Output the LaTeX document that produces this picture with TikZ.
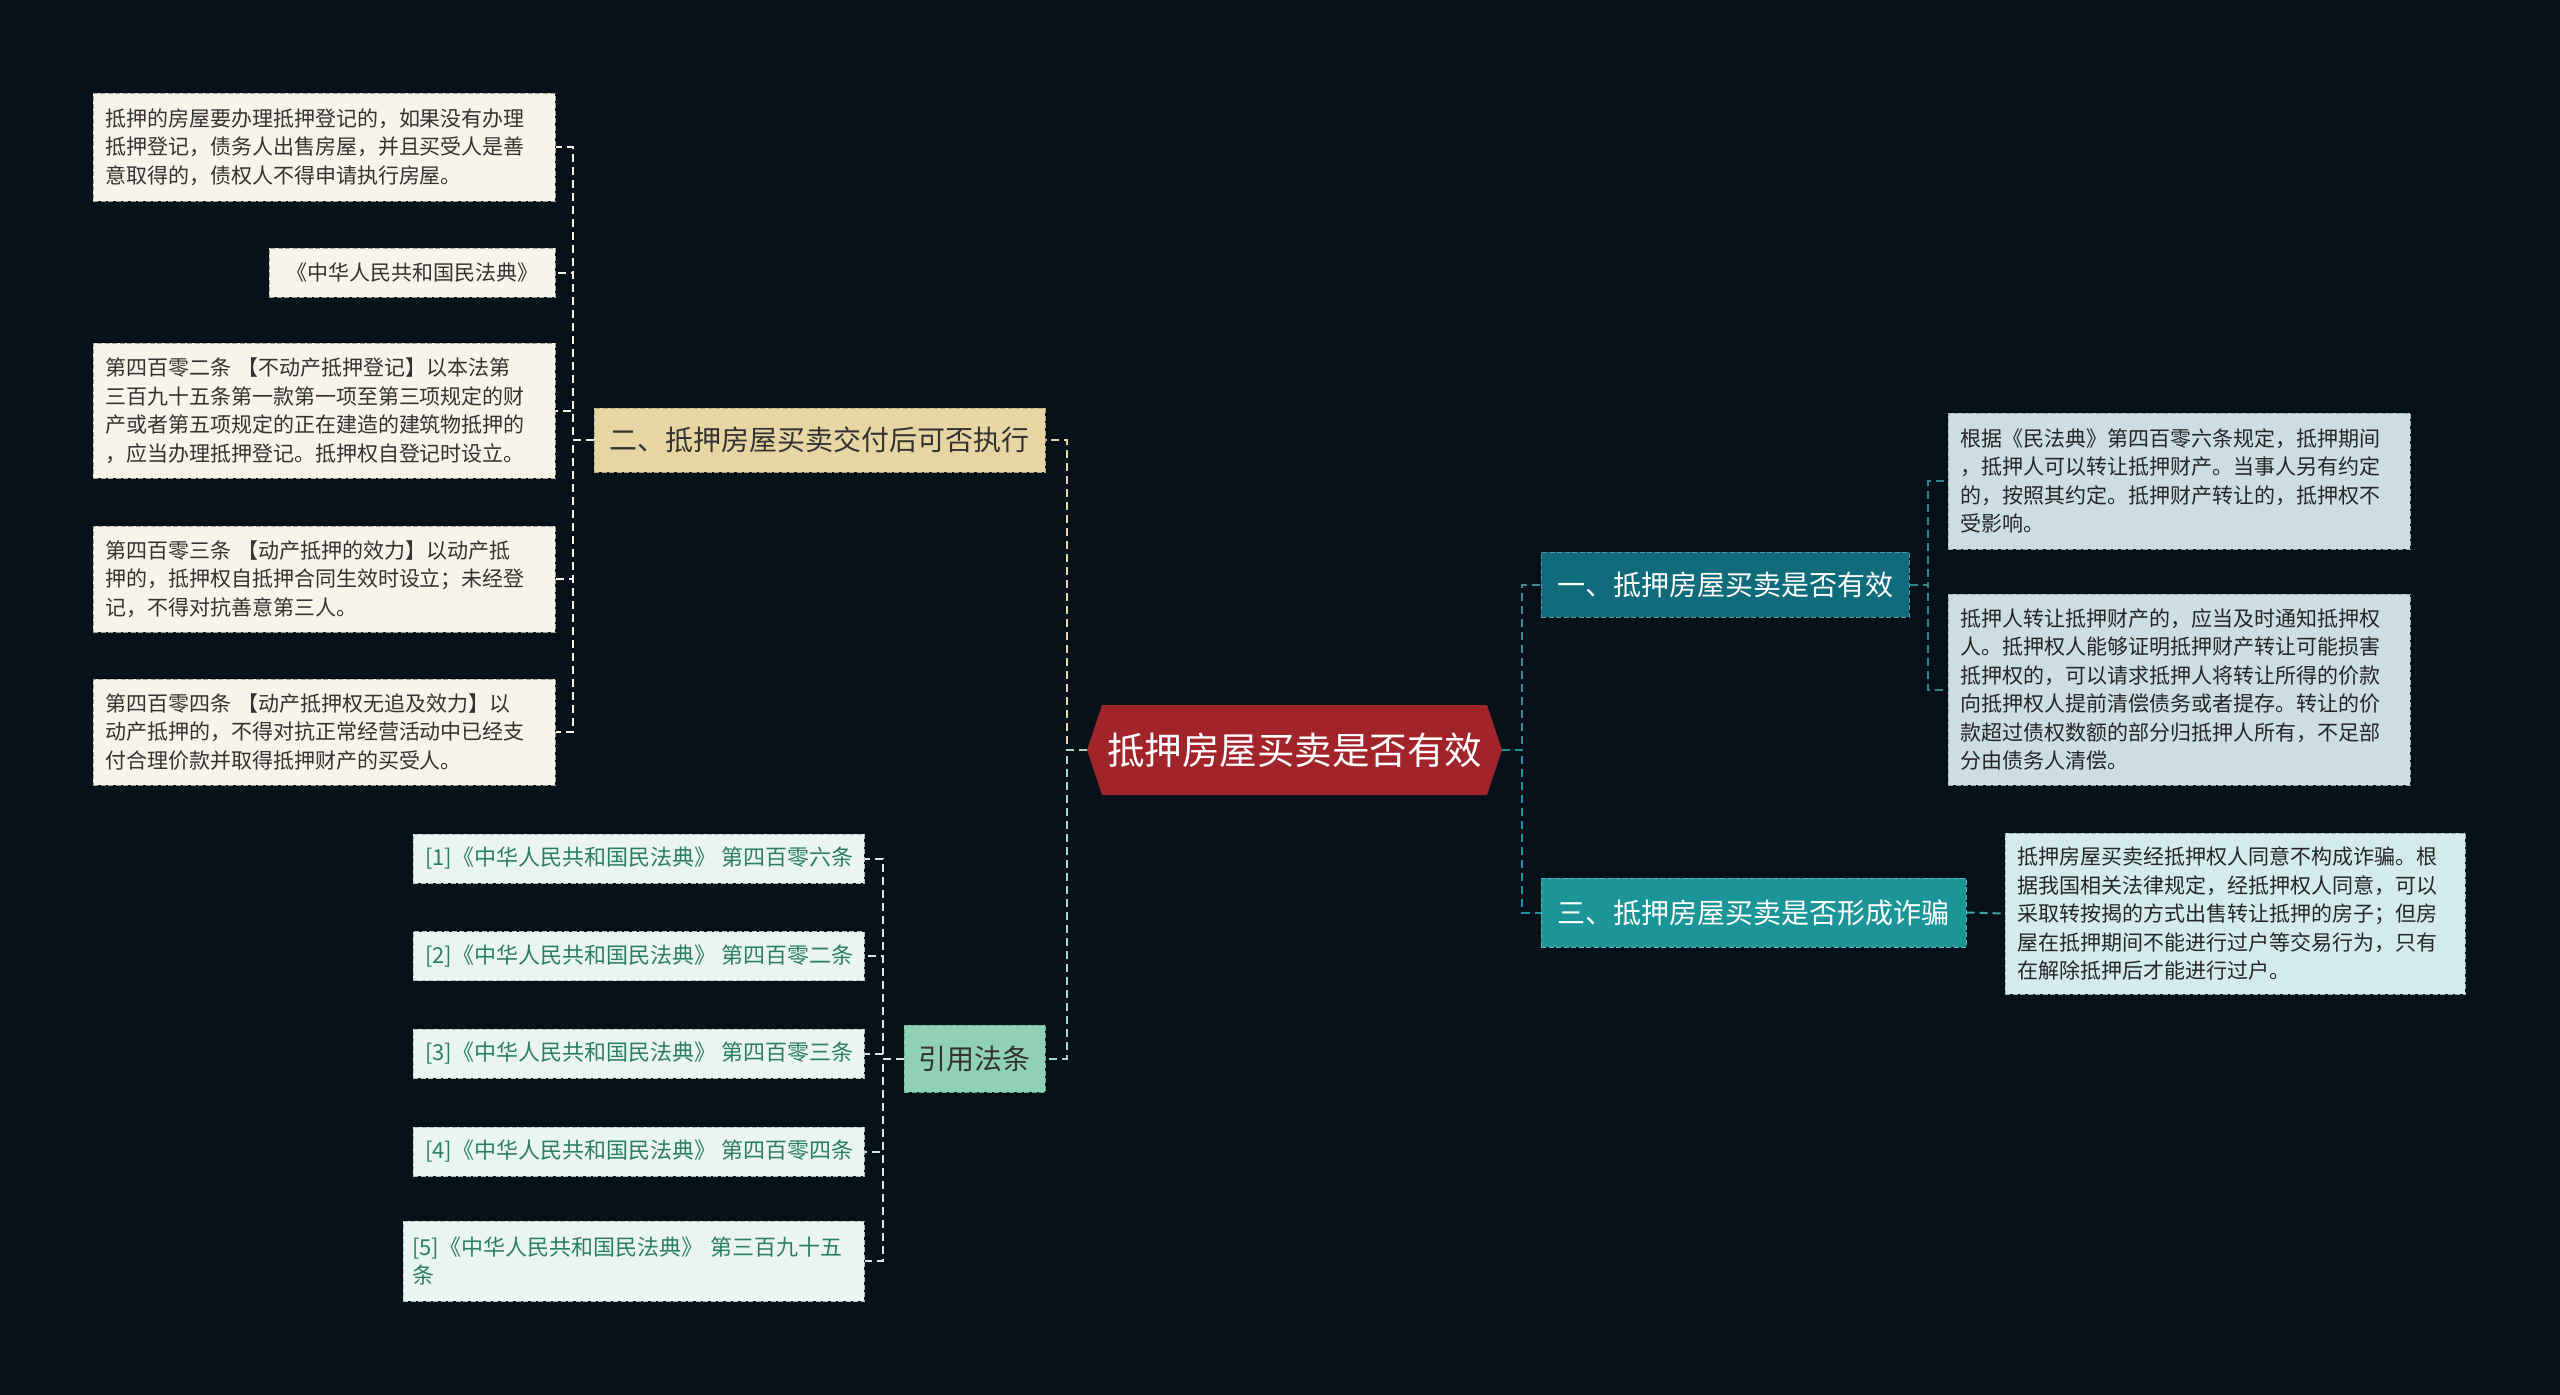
\documentclass[tikz,border=0pt]{standalone}
\usepackage{fontspec}
\setmainfont{Noto Sans CJK SC}
\definecolor{bg}{HTML}{06111A}
\definecolor{rootfill}{HTML}{A2242B}
\definecolor{btwofill}{HTML}{E8D5A4}
\definecolor{btwoline}{HTML}{B9A576}
\definecolor{leaffill}{HTML}{F8F4EA}
\definecolor{leafline}{HTML}{A9A395}
\definecolor{citefill}{HTML}{90D0B5}
\definecolor{citeline}{HTML}{6AAE93}
\definecolor{reffill}{HTML}{EAF5F1}
\definecolor{refline}{HTML}{A9C7BC}
\definecolor{reftext}{HTML}{2C7E62}
\definecolor{bonefill}{HTML}{106B7A}
\definecolor{bthreefill}{HTML}{1B9597}
\definecolor{rleaffill}{HTML}{CCDDE3}
\definecolor{rleafthree}{HTML}{D3EBEC}
\definecolor{rleafline}{HTML}{9AAFB6}
\definecolor{txt}{HTML}{333333}
\newcommand{\reftxt}[1]{\makebox[427pt][l]{#1}}
\begin{document}
\begin{tikzpicture}[x=1pt,y=-1pt,
  box/.style={draw, dash pattern=on 5pt off 2.5pt, line width=1pt, inner xsep=12pt, inner ysep=0pt},
  leafbox/.style={box, fill=leaffill, draw=leafline, text=txt, align=left, text width=438pt,
     font=\fontsize{21pt}{28.5pt}\selectfont},
  refbox/.style={box, fill=reffill, draw=refline, text=reftext, align=left,
     font=\fontsize{22pt}{28.5pt}\selectfont},
  rleafbox/.style={box, fill=rleaffill, draw=rleafline, text=black!85, align=left, text width=438pt,
     font=\fontsize{21pt}{28.5pt}\selectfont},
  branchbox/.style={box, inner xsep=14pt, font=\fontsize{28pt}{34pt}\selectfont},
  conn/.style={line width=2pt, dash pattern=on 8pt off 5pt},
]
\useasboundingbox (0,0) rectangle (2560,1395);
\fill[bg] (0,0) rectangle (2560,1395);

% root
\fill[rootfill] (1087,750) -- (1102,705) -- (1487,705) -- (1502,750) -- (1487,795) -- (1102,795) -- cycle;
\node[minimum width=415pt, minimum height=90pt, inner sep=0pt, text=white,
  font=\fontsize{37.5pt}{44pt}\selectfont] (root) at (1294.5,750) {抵押房屋买卖是否有效};

% left branch two
\node[branchbox, fill=btwofill, draw=btwoline, text=txt, minimum width=451pt, minimum height=64pt]
  (btwo) at (819.5,440) {二、抵押房屋买卖交付后可否执行};

\node[leafbox, minimum height=108pt] (la) at (324,147)
  {抵押的房屋要办理抵押登记的，如果没有办理\\抵押登记，债务人出售房屋，并且买受人是善\\意取得的，债权人不得申请执行房屋。};
\node[box, fill=leaffill, draw=leafline, text=txt, font=\fontsize{21pt}{28.5pt}\selectfont,
  minimum width=286pt, minimum height=49pt] (lb) at (412,272.5) {《中华人民共和国民法典》};
\node[leafbox, minimum height=135pt] (lc) at (324,410.5)
  {第四百零二条 【不动产抵押登记】以本法第\\三百九十五条第一款第一项至第三项规定的财\\产或者第五项规定的正在建造的建筑物抵押的\\，应当办理抵押登记。抵押权自登记时设立。};
\node[leafbox, minimum height=106pt] (ld) at (324,579)
  {第四百零三条 【动产抵押的效力】以动产抵\\押的，抵押权自抵押合同生效时设立；未经登\\记，不得对抗善意第三人。};
\node[leafbox, minimum height=106pt] (le) at (324,732)
  {第四百零四条 【动产抵押权无追及效力】以\\动产抵押的，不得对抗正常经营活动中已经支\\付合理价款并取得抵押财产的买受人。};

% cite branch
\node[branchbox, fill=citefill, draw=citeline, text=txt, minimum width=141pt, minimum height=67pt]
  (cite) at (974.5,1058.5) {引用法条};
\node[refbox, minimum height=49pt] (ra) at (638.5,858.5) {\reftxt{[1]《中华人民共和国民法典》 第四百零六条}};
\node[refbox, minimum height=49pt] (rb) at (638.5,956) {\reftxt{[2]《中华人民共和国民法典》 第四百零二条}};
\node[refbox, minimum height=49pt] (rc) at (638.5,1053.5) {\reftxt{[3]《中华人民共和国民法典》 第四百零三条}};
\node[refbox, minimum height=49pt] (rd) at (638.5,1151.5) {\reftxt{[4]《中华人民共和国民法典》 第四百零四条}};
\node[refbox, inner xsep=9pt, text width=443pt, minimum height=80pt] (re) at (633.5,1261) {[5]《中华人民共和国民法典》 第三百九十五\\条};

% right branches
\node[branchbox, fill=bonefill, draw=bonefill!70!white, text=white, minimum width=368pt, minimum height=65pt]
  (bone) at (1725,584.5) {一、抵押房屋买卖是否有效};
\node[rleafbox, minimum height=136pt] (sa) at (2179,481)
  {根据《民法典》第四百零六条规定，抵押期间\\，抵押人可以转让抵押财产。当事人另有约定\\的，按照其约定。抵押财产转让的，抵押权不\\受影响。};
\node[rleafbox, minimum height=191pt] (sb) at (2179,689.5)
  {抵押人转让抵押财产的，应当及时通知抵押权\\人。抵押权人能够证明抵押财产转让可能损害\\抵押权的，可以请求抵押人将转让所得的价款\\向抵押权人提前清偿债务或者提存。转让的价\\款超过债权数额的部分归抵押人所有，不足部\\分由债务人清偿。};

\node[branchbox, fill=bthreefill, draw=bthreefill!70!white, text=white, minimum width=425pt, minimum height=69pt]
  (bthree) at (1753.5,912.5) {三、抵押房屋买卖是否形成诈骗};
\node[rleafbox, fill=rleafthree, text width=436pt, minimum height=161pt] (sc) at (2235,913.5)
  {抵押房屋买卖经抵押权人同意不构成诈骗。根\\据我国相关法律规定，经抵押权人同意，可以\\采取转按揭的方式出售转让抵押的房子；但房\\屋在抵押期间不能进行过户等交易行为，只有\\在解除抵押后才能进行过户。};

% connectors
\draw[conn, draw=btwofill] (root.west) -- ++(-20,0) |- (btwo.east);
\draw[conn, draw=citefill!80!white] (root.west) -- ++(-20,0) |- (cite.east);
\foreach \n in {la,lb,lc,ld,le}
  \draw[conn, draw=leaffill!90!btwofill] (btwo.west) -- ++(-21,0) |- (\n.east);
\foreach \n in {ra,rb,rc,rd,re}
  \draw[conn, draw=reffill!85!gray] (cite.west) -- ++(-21,0) |- (\n.east);
\draw[conn, draw=bonefill!80!white] (root.east) -- ++(20,0) |- (bone.west);
\draw[conn, draw=bthreefill] (root.east) -- ++(20,0) |- (bthree.west);
\foreach \n in {sa,sb}
  \draw[conn, draw=bonefill!85!white] (bone.east) -- ++(18,0) |- (\n.west);
\draw[conn, draw=bthreefill!85!white] (bthree.east) -- (sc.west);
\end{tikzpicture}
\end{document}
